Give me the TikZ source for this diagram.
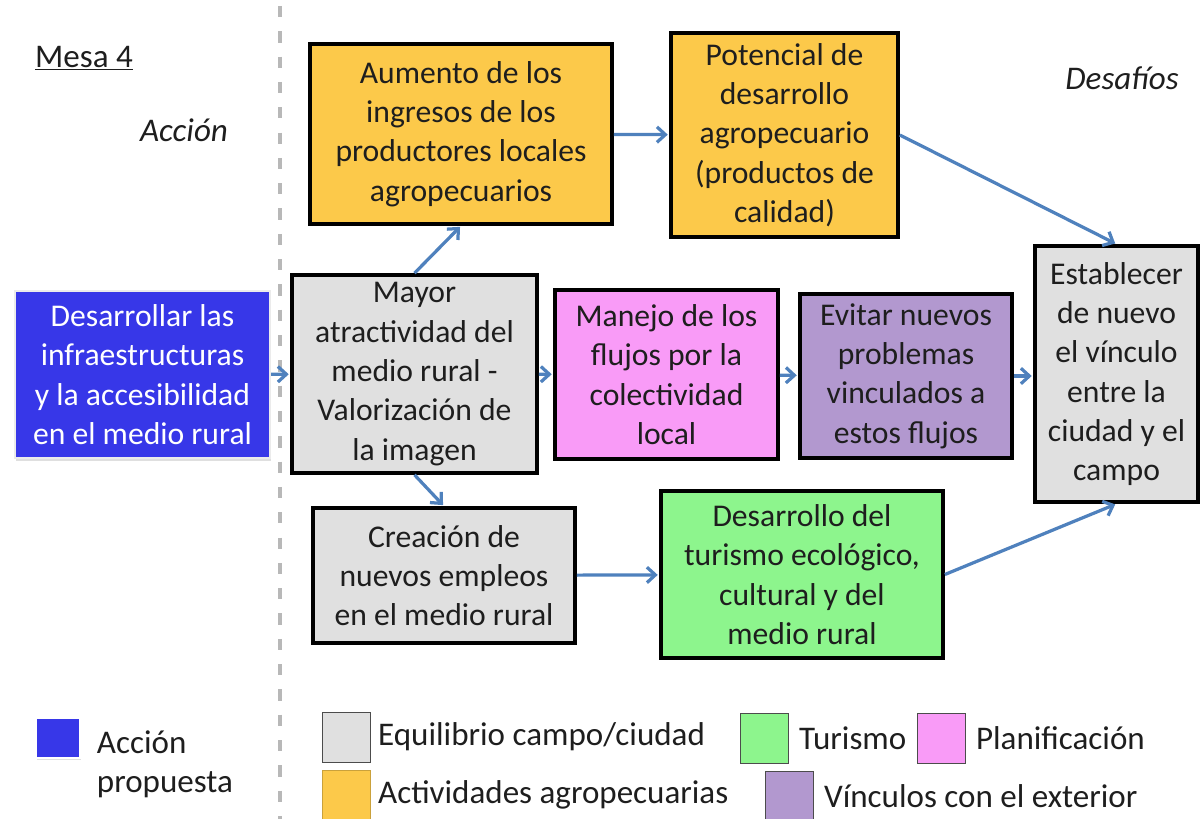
\documentclass[tikz,border=0pt]{standalone}
\usepackage{fontspec}
\setmainfont{Carlito}
\usetikzlibrary{arrows.meta,positioning,shadows}
\definecolor{propuesta}{HTML}{3737E8}
\definecolor{equil}{HTML}{E0E0E0}
\definecolor{agro}{HTML}{FCC94A}
\definecolor{plan}{HTML}{F99BF7}
\definecolor{vinc}{HTML}{B298CF}
\definecolor{turis}{HTML}{8DF58D}
\definecolor{flecha}{HTML}{4F81BD}
\definecolor{texto}{HTML}{1E1E1E}

\begin{document}
\begin{tikzpicture}[x=0.025cm,y=-0.025cm,
  caja/.style={draw=black,line width=2.6pt,text=texto,align=center,inner sep=2pt,
    font=\fontsize{22.5}{28}\selectfont},
  flujo/.style={draw=flecha,line width=2.3pt,-{Straight Barb[length=6pt,width=11pt]},shorten >=1pt},
  rotulo/.style={text=texto,font=\fontsize{23.5}{28}\selectfont},
  muestra/.style={draw=black!70,line width=0.6pt,minimum width=1.2cm,minimum height=1.25cm,inner sep=0pt}]
  \useasboundingbox (0,0) rectangle (1200,819);
  % separador
  \draw[black!28,line width=2.6pt,dash pattern=on 8pt off 10pt] (280,6) -- (280,819);
  % titulos
  \node[rotulo] (mesa) at (84,58) {\underline{Mesa 4}};
  \node[rotulo,font=\fontsize{23.5}{27}\selectfont\itshape] (accion) at (184,130) {Acción};
  \node[rotulo,font=\fontsize{23.5}{27}\selectfont\itshape] (desafios) at (1122,78) {Desafíos};
  % accion propuesta
  \node[caja,draw=black!8,line width=1.5pt,fill=propuesta,text=white,
    drop shadow={opacity=0.25,shadow xshift=1pt,shadow yshift=-2pt},
    minimum width=6.375cm,minimum height=4.175cm] (infra) at (142.5,374.5)
    {Desarrollar las\\infraestructuras\\y la accesibilidad\\en el medio rural};
  % cajas
  \node[caja,fill=equil,minimum width=6.125cm,minimum height=4.95cm] (mayor) at (414.5,374)
    {Mayor\\atractividad del\\medio rural -\\Valorización de\\la imagen};
  \node[caja,fill=agro,minimum width=7.55cm,minimum height=4.5cm] (aumento) at (461,134)
    {Aumento de los\\ingresos de los\\productores locales\\agropecuarios};
  \node[caja,fill=agro,minimum width=5.675cm,minimum height=5.1cm] (potencial) at (784.5,135)
    {Potencial de\\desarrollo\\agropecuario\\(productos de\\calidad)};
  \node[caja,fill=plan,minimum width=5.575cm,minimum height=4.225cm] (manejo) at (666.5,374.5)
    {Manejo de los\\flujos por la\\colectividad\\local};
  \node[caja,fill=vinc,minimum width=5.3cm,minimum height=4.1cm] (evitar) at (906,376)
    {Evitar nuevos\\problemas\\vinculados a\\estos flujos};
  \node[caja,fill=equil,minimum width=4.075cm,minimum height=6.4cm] (vinculo) at (1116.5,374)
    {Establecer\\de nuevo\\el vínculo\\entre la\\ciudad y el\\campo};
  \node[caja,fill=equil,minimum width=6.55cm,minimum height=3.375cm] (empleos) at (444,575.5)
    {Creación de\\nuevos empleos\\en el medio rural};
  \node[caja,fill=turis,minimum width=7.05cm,minimum height=4.175cm] (turismo) at (802,574.5)
    {Desarrollo del\\turismo ecológico,\\cultural y del\\medio rural};
  % flechas
  \draw[flujo] (infra) -- (mayor);
  \draw[flujo] (mayor.north) -- (aumento.south);
  \draw[flujo] (mayor.south) -- (empleos.north);
  \draw[flujo] (mayor) -- (manejo);
  \draw[flujo] (manejo) -- (evitar);
  \draw[flujo] (evitar.east) -- (vinculo.west |- evitar.east);
  \draw[flujo] (aumento) -- (potencial);
  \draw[flujo] (potencial.east) -- (vinculo.north);
  \draw[flujo] (empleos) -- (turismo);
  \draw[flujo] (turismo.east) -- (vinculo.south);
  % leyenda
  \node[muestra,draw=white,line width=1.5pt,fill=propuesta,minimum width=1.1cm,minimum height=0.98cm,
    drop shadow={opacity=0.25,shadow xshift=1pt,shadow yshift=-2pt}] (lprop) at (58,738) {};
  \node[rotulo,align=left,anchor=west] (tprop) at (92,764) {Acción\\propuesta};
  \node[muestra,fill=equil] (lequil) at (346,737) {};
  \node[rotulo,right=2pt of lequil] (tequil) {Equilibrio campo/ciudad};
  \node[muestra,fill=turis] (lturis) at (764,738) {};
  \node[rotulo,right=4pt of lturis] (tturis) {Turismo};
  \node[muestra,fill=plan] (lplan) at (941,738) {};
  \node[rotulo,right=4pt of lplan] (tplan) {Planificación};
  \node[muestra,fill=agro,draw=agro!80!black] (lagro) at (346,795) {};
  \node[rotulo,right=2pt of lagro] (tagro) {Actividades agropecuarias};
  \node[muestra,fill=vinc] (lvinc) at (789,796) {};
  \node[rotulo,right=4pt of lvinc] (tvinc) {Vínculos con el exterior};
\end{tikzpicture}
\end{document}
